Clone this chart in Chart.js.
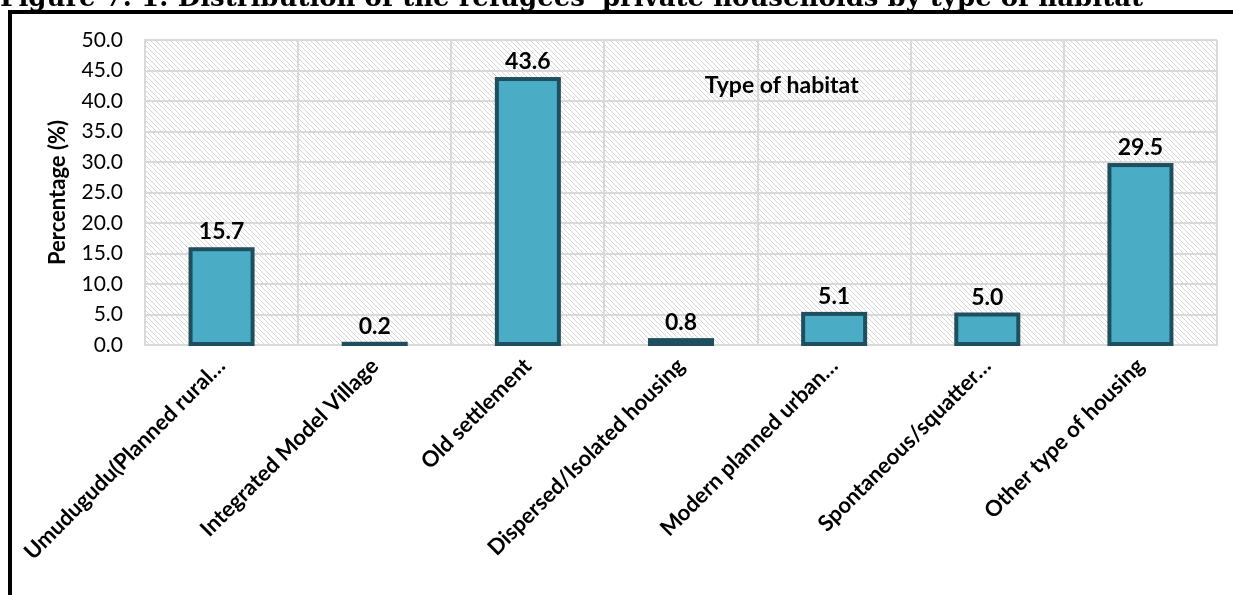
<!DOCTYPE html>
<html>
<head>
<meta charset="utf-8">
<script src="https://cdn.jsdelivr.net/npm/chart.js@4.4.0/dist/chart.umd.min.js"></script>
<style>
    html, body { margin: 0; padding: 0; background: #fff; overflow: hidden; }
    #wrap { position: relative; width: 1233px; height: 595px; overflow: hidden; }
    #figTitle {
        position: absolute; left: 0; top: -18px; line-height: 26px;
        font: bold 26px "DejaVu Serif"; white-space: nowrap; color: #000;
    }
    #frame {
        position: absolute; left: 8px; top: 10px; width: 1300px; height: 700px;
        border: 4px solid #000; box-sizing: border-box; pointer-events: none;
    }
    canvas { position: absolute; left: 0; top: 0; }
</style>
</head>
<body>
<div id="wrap">
    <canvas id="habitatChart" width="1233" height="595"></canvas>
    <div id="figTitle">Figure 7. 1: Distribution of the refugees' private households by type of habitat</div>
    <div id="frame"></div>
</div>
<script>
// Chart data
const habitatTypes = [
    'Umudugudu(Planned rural…',
    'Integrated Model Village',
    'Old settlement',
    'Dispersed/Isolated housing',
    'Modern planned urban…',
    'Spontaneous/squatter…',
    'Other type of housing'
];
const percentages = [15.7, 0.2, 43.6, 0.8, 5.1, 5.0, 29.5];
const yMin = 0;
const yMax = 50;
const yStep = 5;

const FONT = 'Lato';
const BAR_EDGE = '#1f4f5e';

/* Diagonal hatch for the plot background
*/
const makeHatch = () => {
    const p = document.createElement('canvas');
    p.width = 5;
    p.height = 5;
    const pc = p.getContext('2d');
    pc.strokeStyle = '#d6d6d6';
    pc.lineWidth = 1;
    pc.beginPath();
    pc.moveTo(-1, -1); pc.lineTo(6, 6);
    pc.moveTo(-1, 4); pc.lineTo(1, 6);
    pc.moveTo(4, -1); pc.lineTo(6, 1);
    pc.stroke();
    return pc.createPattern(p, 'repeat');
}

const hatchPlugin = {
    id: 'hatch',
    beforeDraw: (chart) => {
        const { ctx, chartArea: a } = chart;
        ctx.save();
        ctx.fillStyle = makeHatch();
        ctx.fillRect(a.left, a.top, a.right - a.left, a.bottom - a.top);
        ctx.restore();
    }
}

// Outline each bar with a centred stroke (so tiny bars still show), then the value label
const barDecorPlugin = {
    id: 'barDecor',
    afterDatasetsDraw: (chart) => {
        const ctx = chart.ctx;
        const meta = chart.getDatasetMeta(0);
        ctx.save();
        ctx.strokeStyle = BAR_EDGE;
        ctx.lineWidth = 4;
        ctx.lineJoin = 'miter';
        meta.data.forEach((bar) => {
            const { x, y, base, width } = bar.getProps(['x', 'y', 'base', 'width'], true);
            ctx.strokeRect(x - width / 2, Math.min(y, base), width, Math.abs(base - y));
        });
        ctx.font = 'bold 23px ' + FONT;
        ctx.fillStyle = '#000';
        ctx.textAlign = 'center';
        ctx.textBaseline = 'alphabetic';
        meta.data.forEach((bar, i) => {
            ctx.fillText(percentages[i].toFixed(1), bar.x, bar.y - 10);
        });
        ctx.restore();
    }
}

// "Type of habitat" title sits inside the plot
const innerTitlePlugin = {
    id: 'innerTitle',
    afterDraw: (chart) => {
        const { ctx, chartArea: a } = chart;
        ctx.save();
        ctx.font = 'bold 23px ' + FONT;
        ctx.fillStyle = '#000';
        ctx.textAlign = 'center';
        ctx.textBaseline = 'middle';
        ctx.fillText('Type of habitat', a.left + (a.right - a.left) * 0.594, a.top + (a.bottom - a.top) * 0.148);
        ctx.restore();
    }
}

const buildChart = () => {
    const data = {
        labels: habitatTypes,
        datasets: [{
            label: 'Percentage',
            data: percentages,
            backgroundColor: '#4bacc6',
            borderWidth: 0,
            barPercentage: 0.405,
            categoryPercentage: 1
        }]
    };

    const config = {
        type: 'bar',
        data: data,
        options: {
            responsive: false,
            animation: false,
            layout: { padding: { left: 0, right: 16, top: 40, bottom: 0 } },
            plugins: {
                legend: { display: false },
                tooltip: { enabled: false }
            },
            scales: {
                x: {
                    z: 1,
                    grid: { color: '#d9d9d9', lineWidth: 2, offset: true, drawTicks: false, tickLength: 0 },
                    border: { color: '#d9d9d9', width: 2 },
                    ticks: {
                        color: '#000',
                        font: { family: FONT, size: 22, weight: 'bold' },
                        minRotation: 45,
                        maxRotation: 45,
                        autoSkip: false,
                        padding: 8
                    },
                    afterFit: (s) => { s.height = 250; }
                },
                y: {
                    min: yMin,
                    max: yMax,
                    ticks: {
                        stepSize: yStep,
                        color: '#000',
                        font: { family: FONT, size: 21 },
                        padding: 22,
                        callback: (v) => v.toFixed(1)
                    },
                    grid: { color: '#d9d9d9', lineWidth: 2, drawTicks: false, tickLength: 0 },
                    border: { color: '#d9d9d9', width: 2 },
                    title: {
                        display: true,
                        text: 'Percentage (%)',
                        color: '#000',
                        font: { family: FONT, size: 22, weight: 'bold' },
                        padding: { top: 45, bottom: 0 }
                    },
                    afterFit: (s) => { s.width = 145; }
                }
            }
        },
        plugins: [hatchPlugin, barDecorPlugin, innerTitlePlugin]
    };

    const ctx = document.getElementById('habitatChart').getContext('2d');
    new Chart(ctx, config);
}

document.addEventListener('DOMContentLoaded', () => {
    buildChart();
});
</script>
</body>
</html>
